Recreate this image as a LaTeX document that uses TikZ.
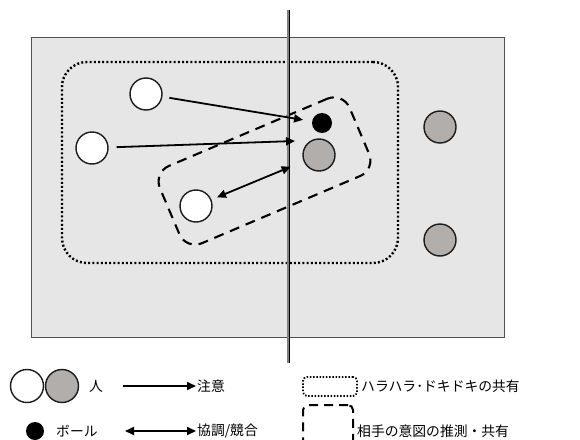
\documentclass[tikz,border=0pt]{standalone}
\usepackage{fontspec}
\newfontfamily\jp{Noto Sans CJK JP}
\usetikzlibrary{arrows.meta}
\definecolor{fieldbg}{HTML}{E6E6E6}
\definecolor{fieldln}{HTML}{505050}
\definecolor{pgray}{HTML}{B2AEAC}
\definecolor{pline}{HTML}{1A1A1A}
\tikzset{
  person/.style={circle,draw=pline,line width=1.4pt,minimum size=32pt,inner sep=0pt},
  wp/.style={person,fill=white},
  gp/.style={person,fill=pgray},
  ballst/.style={circle,fill=black,minimum size=20pt,inner sep=0pt},
  arr/.style={line width=1.8pt,-{Triangle[length=9pt,width=8pt]}},
  darr/.style={line width=1.8pt,{Triangle[length=9pt,width=8pt]}-{Triangle[length=9pt,width=8pt]}},
  dotbox/.style={draw,line width=2.4pt,dash pattern=on 2pt off 2.2pt,rounded corners=25pt},
  dashbox/.style={draw,line width=2.1pt,dash pattern=on 10pt off 7pt,rounded corners=17pt},
  lbl/.style={anchor=west,inner sep=1pt,font=\jp\fontsize{13.8}{15}\selectfont}
}
\begin{document}
\begin{tikzpicture}[x=1pt,y=-1pt]
\useasboundingbox (0,0) rectangle (580,439);
\clip (0,0) rectangle (580,439);
% field
\node[draw=fieldln,fill=fieldbg,line width=1pt,minimum width=473pt,minimum height=300pt,inner sep=0pt] (field) at (267.5,187) {};
% dotted shared-excitement box
\node[dotbox,minimum width=336pt,minimum height=201pt,inner sep=0pt] (dotarea) at (230,162.5) {};
% dashed intention box
\node[dashbox,minimum width=206pt,minimum height=84pt,inner sep=0pt,rotate=23] (dasharea) at (264.5,171) {};
% players
\node[wp] (p1) at (146,94) {};
\node[wp] (p2) at (92,148) {};
\node[wp] (p3) at (196,206) {};
\node[gp] (g0) at (319,155) {};
\node[gp] (g1) at (440,127) {};
\node[gp] (g2) at (440,240) {};
\node[ballst] (ball) at (322,123) {};
% center line
\coordinate (ltop) at (288.3,10);
\coordinate (lbot) at (288.3,363);
\draw[line width=2pt,gray] (ltop) -- (lbot);
\draw[line width=0.9pt,black] ([xshift=1.2pt]ltop) -- ([xshift=1.2pt]lbot);
% arrows
\coordinate (t2) at (295,141);
\draw[arr,shorten <=7pt,shorten >=9pt] (p1) -- (ball);
\draw[arr,shorten <=8pt] (p2) -- (t2);
\draw[darr,shorten <=6pt,shorten >=14pt] (p3) -- (g0);
% legend row 1
\node[wp,minimum size=33pt] (lw) at (27,386) {};
\node[gp,minimum size=33pt] (lg) at (62,386) {};
\node[lbl] (lperson) at (88,386) {人};
\coordinate (la1) at (123,386);
\node[lbl] (lattn) at (196,386) {注意};
\draw[arr] (la1) -- (lattn.west);
\node[draw,line width=1.8pt,dash pattern=on 1.5pt off 1.7pt,rounded corners=4pt,minimum width=54pt,minimum height=19pt,inner sep=0pt] (ldot) at (330,386.5) {};
\node[lbl] (lexc) at (360,386) {ハラハラ･ドキドキの共有};
% legend row 2
\node[ballst,minimum size=18pt] (lball) at (35,431) {};
\node[lbl] (lballt) at (55,431) {ボール};
\coordinate (la2) at (125,431);
\node[lbl] (lcoop) at (196,431) {協調/競合};
\draw[darr] (la2) -- (lcoop.west);
\node[draw,line width=2pt,dash pattern=on 9pt off 6pt,rounded corners=5pt,minimum width=50pt,minimum height=50pt,inner sep=0pt] (ldash) at (328,430) {};
\node[lbl] (lint) at (356,431) {相手の意図の推測・共有};
\end{tikzpicture}
\end{document}
